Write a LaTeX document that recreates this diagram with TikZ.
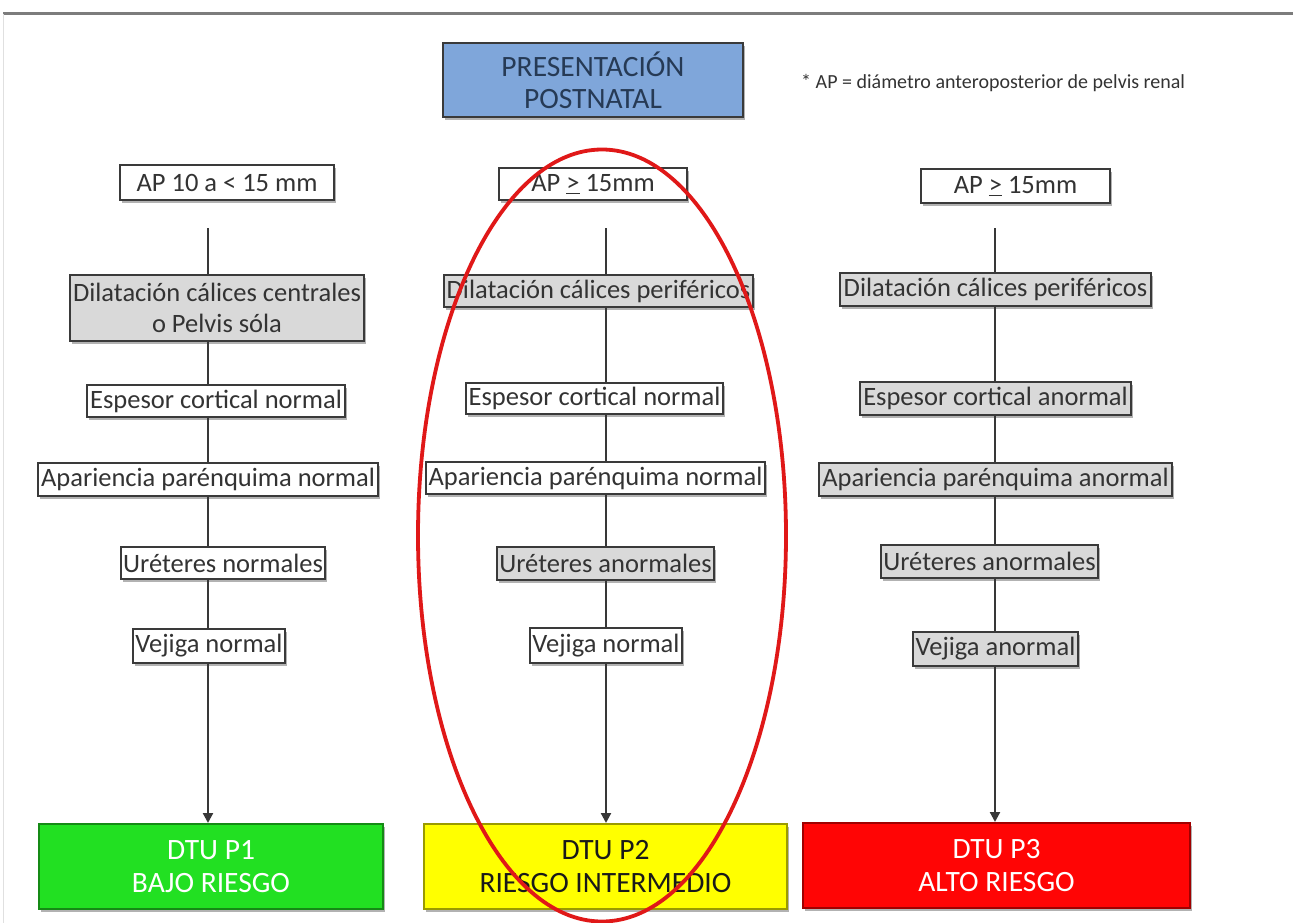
\documentclass[tikz,border=0pt]{standalone}
\usepackage{fontspec}
\setmainfont{Carlito}
\usetikzlibrary{shadows,arrows.meta}

\definecolor{frameline}{HTML}{7C7C7C}
\definecolor{boxline}{HTML}{3A3A3A}
\definecolor{boxgray}{HTML}{D9D9D9}
\definecolor{titlefill}{HTML}{7FA6DA}
\definecolor{titletext}{HTML}{263A55}
\definecolor{connline}{HTML}{383838}
\definecolor{lowfill}{HTML}{22E022}
\definecolor{lowline}{HTML}{158A15}
\definecolor{midfill}{HTML}{FFFF00}
\definecolor{midline}{HTML}{9A9A00}
\definecolor{highfill}{HTML}{FF0505}
\definecolor{highline}{HTML}{A00000}
\definecolor{ringred}{HTML}{E01818}

\begin{document}
\begin{tikzpicture}[x=1pt,y=-1pt,
  shade/.style={drop shadow={shadow xshift=2pt,shadow yshift=-3pt,fill=black!55,opacity=0.55}},
  box/.style={draw=boxline,line width=1.5pt,fill=white,inner sep=0pt,align=center,
    text=black!80,font=\fontsize{26.5}{31}\selectfont,shade},
  graybox/.style={box,fill=boxgray},
  titlebox/.style={draw=boxline,line width=2.5pt,fill=titlefill,inner sep=0pt,align=center,
    text=titletext,font=\fontsize{29.5}{32}\selectfont,shade},
  riskbox/.style={line width=2pt,inner sep=0pt,align=center,
    font=\fontsize{29.5}{33}\selectfont,shade},
  conn/.style={draw=connline,line width=2.2pt},
  connarrow/.style={conn,-{Triangle[length=10pt,width=10pt]}}
]
\useasboundingbox (0,0) rectangle (1293,923);

% page frame
\draw[frameline,line width=3pt] (3,14) -- (1293,14);
\draw[black!12,line width=1pt] (3,14) -- (3,923);

% heading and footnote
\node[titlebox,minimum width=300pt,minimum height=74pt] (title) at (593,80)
  {PRESENTACIÓN\\POSTNATAL};
\node[anchor=west,inner sep=0pt,text=black!80,font=\fontsize{20}{22}\selectfont] (note) at (801,83)
  {* AP = diámetro anteroposterior de pelvis renal};

% column 1
\node[box,minimum width=214pt,minimum height=35pt] (ap1) at (227,182.5) {AP 10 a < 15 mm};
\node[graybox,minimum width=294pt,minimum height=66pt] (dil1) at (217,308)
  {Dilatación cálices centrales\\o Pelvis sóla};
\node[box,minimum width=258pt,minimum height=32pt] (esp1) at (216,401) {Espesor cortical normal};
\node[box,minimum width=340pt,minimum height=33pt] (apa1) at (208,479.5) {Apariencia parénquima normal};
\node[box,minimum width=204pt,minimum height=32pt] (ure1) at (223,563) {Uréteres normales};
\node[box,minimum width=152pt,minimum height=34pt] (vej1) at (209,646) {Vejiga normal};
\node[riskbox,draw=lowline,fill=lowfill,text=white,minimum width=344pt,minimum height=85pt] (p1) at (211,866.5)
  {DTU P1\\BAJO RIESGO};

% column 2
\node[box,minimum width=188pt,minimum height=32pt] (ap2) at (593,184) {AP \underline{>} 15mm};
\node[graybox,minimum width=309pt,minimum height=32pt] (dil2) at (598.5,291) {Dilatación cálices periféricos};
\node[box,minimum width=257pt,minimum height=31pt] (esp2) at (594.5,398.5) {Espesor cortical normal};
\node[box,minimum width=339pt,minimum height=32pt] (apa2) at (595.5,478) {Apariencia parénquima normal};
\node[graybox,minimum width=217pt,minimum height=33pt] (ure2) at (605.5,563.5) {Uréteres anormales};
\node[box,minimum width=152pt,minimum height=35pt] (vej2) at (606,645.5) {Vejiga normal};
\node[riskbox,draw=midline,fill=midfill,text=black!90,minimum width=363pt,minimum height=85pt] (p2) at (605.5,866.5)
  {DTU P2\\RIESGO INTERMEDIO};

% column 3
\node[box,minimum width=189pt,minimum height=34pt] (ap3) at (1015.5,186) {AP \underline{>} 15mm};
\node[graybox,minimum width=311pt,minimum height=33pt] (dil3) at (995.5,289.5) {Dilatación cálices periféricos};
\node[graybox,minimum width=271pt,minimum height=33pt] (esp3) at (995.5,398.5) {Espesor cortical anormal};
\node[graybox,minimum width=353pt,minimum height=33pt] (apa3) at (995.5,479.5) {Apariencia parénquima anormal};
\node[graybox,minimum width=217pt,minimum height=33pt] (ure3) at (989.5,561.5) {Uréteres anormales};
\node[graybox,minimum width=165pt,minimum height=34pt] (vej3) at (995.5,649) {Vejiga anormal};
\node[riskbox,draw=highline,fill=highfill,text=white,minimum width=387pt,minimum height=85pt] (p3) at (996.5,865.5)
  {DTU P3\\ALTO RIESGO};

% vertical connectors of each column
\coordinate (c1) at (208,228);
\coordinate (c2) at (606,228);
\coordinate (c3) at (995,228);
\foreach \c in {1,2,3}{
  \draw[conn] (c\c) -- (c\c |- dil\c.north);
  \draw[conn] (c\c |- dil\c.south) -- (c\c |- esp\c.north);
  \draw[conn] (c\c |- esp\c.south) -- (c\c |- apa\c.north);
  \draw[conn] (c\c |- apa\c.south) -- (c\c |- ure\c.north);
  \draw[conn] (c\c |- ure\c.south) -- (c\c |- vej\c.north);
  \draw[connarrow] (c\c |- vej\c.south) -- (c\c |- p\c.north);
}

% hand-drawn ring around the intermediate column
\draw[ringred,line width=3.8pt] (602,535.5) ellipse [x radius=184, y radius=386];
\end{tikzpicture}
\end{document}
